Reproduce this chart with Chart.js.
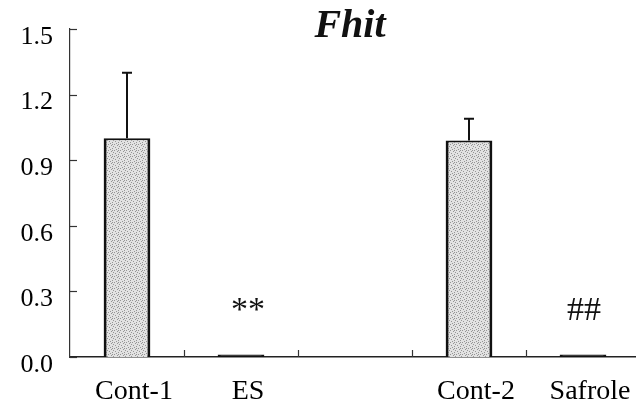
<!DOCTYPE html>
<html><head><meta charset="utf-8">
<script src="https://cdn.jsdelivr.net/npm/chart.js@4"></script>
<style>html,body{margin:0;padding:0;background:#fff;overflow:hidden;width:636px;height:405px}canvas{display:block}</style>
</head><body>
<canvas id="c" width="640" height="405"></canvas>
<script>
const categories = ['Cont-1', 'ES', '', 'Cont-2', 'Safrole'];
const means = [1.0, 0.012, null, 0.99, 0.012];
const errors = [0.3, 0, null, 0.1, 0];
const marks = ['', '**', '', '', '##'];
const yTicks = [0, 0.3, 0.6, 0.9, 1.2, 1.5];
const titleText = 'Fhit';
const markLevel = 0.17;

function makePattern(){
  const c = document.createElement('canvas'); c.width = 6; c.height = 6;
  const g = c.getContext('2d');
  g.fillStyle = '#e2e2e2'; g.fillRect(0,0,6,6);
  g.fillStyle = '#959595';
  [[0,0],[3,1],[1,3],[4,4],[2,5],[5,2],[4,0]].forEach(p => g.fillRect(p[0],p[1],1,1));
  return g.createPattern(c, 'repeat');
}
const pattern = makePattern();

const serif = '"Liberation Serif", "Times New Roman", serif';

const extras = {
  id: 'extras',
  afterDatasetsDraw(chart){
    const ctx = chart.ctx, xs = chart.scales.x, ys = chart.scales.y, a = chart.chartArea;
    ctx.save();
    ctx.strokeStyle = '#111'; ctx.lineWidth = 2;
    means.forEach((m, i) => {
      if (m == null || !errors[i]) return;
      const x = xs.getPixelForValue(i);
      const y0 = ys.getPixelForValue(m), y1 = ys.getPixelForValue(m + errors[i]);
      ctx.beginPath(); ctx.moveTo(x, y0); ctx.lineTo(x, y1);
      ctx.moveTo(x - 5, y1); ctx.lineTo(x + 5, y1); ctx.stroke();
    });
    ctx.lineWidth = 1.2; ctx.strokeStyle = '#333';
    yTicks.forEach(v => {
      const y = Math.round(ys.getPixelForValue(v)) + 0.5;
      ctx.beginPath(); ctx.moveTo(a.left, y); ctx.lineTo(a.left + 7, y); ctx.stroke();
    });
    for (let i = 1; i < categories.length; i++) {
      const x = Math.round((xs.getPixelForValue(i - 1) + xs.getPixelForValue(i)) / 2) + 0.5;
      ctx.beginPath(); ctx.moveTo(x, a.bottom); ctx.lineTo(x, a.bottom - 7); ctx.stroke();
    }
    ctx.fillStyle = '#111'; ctx.textAlign = 'center'; ctx.textBaseline = 'alphabetic';
    ctx.font = '34px ' + serif;
    marks.forEach((t, i) => {
      if (!t) return;
      const off = t === '**' ? 7 : 1;
      ctx.fillText(t, xs.getPixelForValue(i) + off, ys.getPixelForValue(markLevel));
    });
    ctx.font = 'italic bold 40px ' + serif;
    ctx.fillText(titleText, 350, 37);
    ctx.restore();
  }
};

new Chart(document.getElementById('c'), {
  type: 'bar',
  data: {
    labels: categories,
    datasets: [{
      data: means,
      backgroundColor: c => (c.raw != null && c.raw < 0.05) ? '#111' : pattern,
      borderColor: '#111',
      borderWidth: {top: 2, left: 3, right: 3, bottom: 0},
      borderSkipped: 'bottom',
      categoryPercentage: 1,
      barPercentage: 0.41
    }]
  },
  options: {
    responsive: false,
    animation: false,
    events: [],
    layout: {padding: {top: 29, left: 0, right: 0, bottom: 0}},
    plugins: {legend: {display: false}, tooltip: {enabled: false}, title: {display: false}},
    scales: {
      x: {
        offset: true,
        grid: {display: false, drawTicks: false},
        border: {display: true, color: '#222', width: 1.5},
        ticks: {color: '#000', font: {family: serif, size: 28}, padding: 18, labelOffset: 7, maxRotation: 0, autoSkip: false},
        afterFit(s){ s.height = 48; s.paddingLeft = 0; s.paddingRight = 0; }
      },
      y: {
        min: 0, max: 1.5,
        afterBuildTicks(s){ s.ticks = yTicks.map(v => ({value: v})); },
        grid: {display: false, drawTicks: false},
        border: {display: true, color: '#333', width: 1.2},
        ticks: {color: '#000', font: {family: serif, size: 26}, padding: 17, labelOffset: 8,
          callback: v => Number(v).toFixed(1)},
        afterFit(s){ s.width = 70; s.paddingTop = 0; s.paddingBottom = 0; }
      }
    }
  },
  plugins: [extras]
});
</script>
</body></html>
